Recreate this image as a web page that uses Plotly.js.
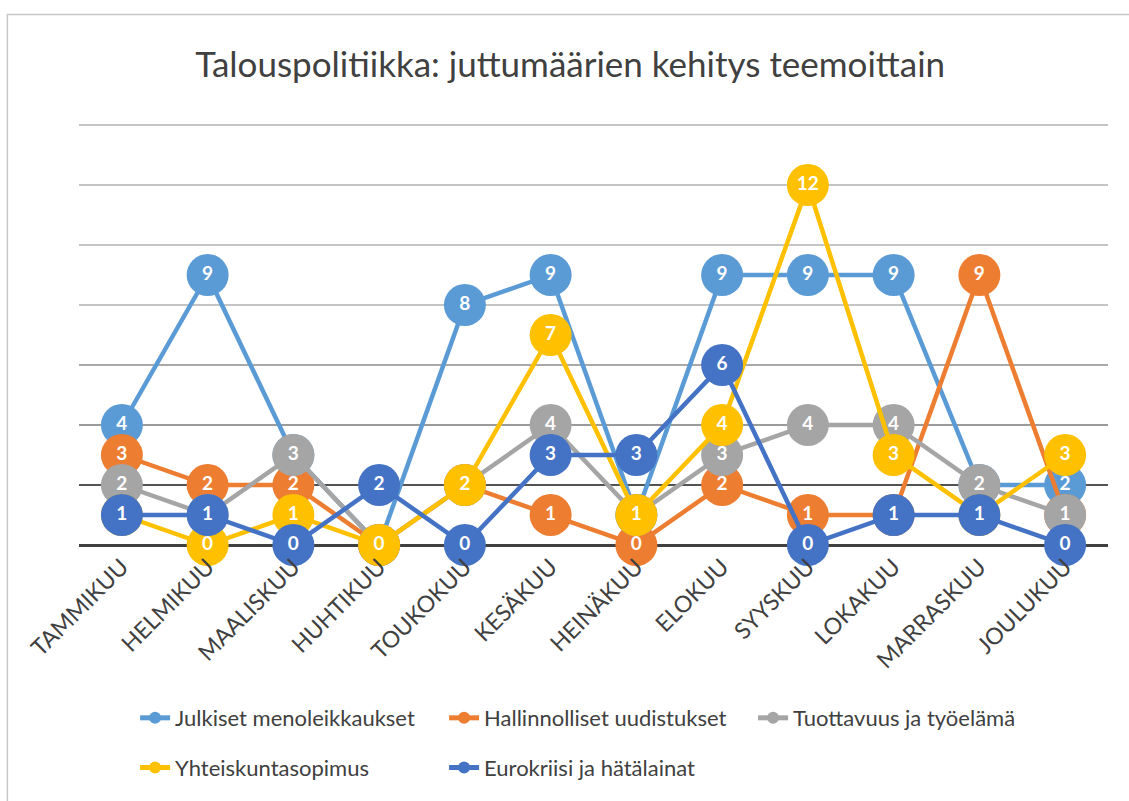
<!DOCTYPE html>
<html>
<head>
<meta charset="utf-8">
<script src="https://cdn.plot.ly/plotly-3.0.1.min.js"></script>
<style>html,body{margin:0;padding:0;background:#fff;}#chart{width:1129px;height:801px;}</style>
</head>
<body>
<div id="chart"></div>
<script>
const months = ["TAMMIKUU","HELMIKUU","MAALISKUU","HUHTIKUU","TOUKOKUU","KESÄKUU","HEINÄKUU","ELOKUU","SYYSKUU","LOKAKUU","MARRASKUU","JOULUKUU"];
const julkiset = [4, 9, 3, 0, 8, 9, 1, 9, 9, 9, 2, 2];
const hallinnolliset = [3, 2, 2, 0, 2, 1, 0, 2, 1, 1, 9, 1];
const tuottavuus = [2, 1, 3, 0, 2, 4, 1, 3, 4, 4, 2, 1];
const yhteiskunta = [1, 0, 1, 0, 2, 7, 1, 4, 12, 3, 1, 3];
const eurokriisi = [1, 1, 0, 2, 0, 3, 3, 6, 0, 1, 1, 0];
const seriesNames = ["Julkiset menoleikkaukset","Hallinnolliset uudistukset","Tuottavuus ja työelämä","Yhteiskuntasopimus","Eurokriisi ja hätälainat"];
const seriesColors = ["#5B9BD5","#ED7D31","#A5A5A5","#FFC000","#4472C4"];
const seriesValues = [julkiset, hallinnolliset, tuottavuus, yhteiskunta, eurokriisi];
const legendRow = ["legend","legend","legend","legend2","legend2"];
const lightGridValues = [8, 10, 12, 14];
const darkGridValues = [2, 4, 6];

const FONT = "Lato, 'Open Sans', sans-serif";
const darkGridColors = ["#1a1a1a", "#7a7a7a", "#8c8c8c"];

const traces = seriesValues.map((vals, i) => ({
  type: "scatter",
  mode: "lines+markers+text",
  name: seriesNames[i],
  legend: legendRow[i],
  x: months,
  y: vals,
  text: vals.map(String),
  textposition: "middle center",
  textfont: {family: FONT, size: 19, color: "#ffffff", weight: "bold"},
  line: {color: seriesColors[i], width: 4.5},
  marker: {color: seriesColors[i], size: 42},
  cliponaxis: false,
  hoverinfo: "none"
}));

const shapes = darkGridValues.map((v, i) => ({
  type: "line", xref: "x domain", yref: "y", x0: 0, x1: 1, y0: v, y1: v,
  line: {color: darkGridColors[i], width: 1.6}, layer: "below"
}));
shapes.push({
  type: "rect", xref: "paper", yref: "paper",
  x0: -0.0696, x1: 1.2, y0: -1, y1: 1.2571,
  line: {color: "#c8c8c8", width: 1.5}, layer: "below"
});

const legendCommon = {
  orientation: "h",
  xanchor: "left",
  yanchor: "middle",
  font: {family: FONT, size: 22, color: "#404040"},
  entrywidth: 264, entrywidthmode: "pixels",
  itemsizing: "constant",
  bgcolor: "rgba(0,0,0,0)"
};

const layout = {
  width: 1129, height: 801,
  margin: {l: 79, r: 21, t: 123, b: 256},
  paper_bgcolor: "#ffffff",
  plot_bgcolor: "rgba(0,0,0,0)",
  title: {
    text: "Talouspolitiikka: juttumäärien kehitys teemoittain",
    font: {family: FONT, size: 35, color: "#404040"},
    x: 0.505, xanchor: "center", yref: "container", y: 0.919, yanchor: "middle"
  },
  xaxis: {
    type: "category",
    range: [-0.5, 11.5],
    tickangle: -45,
    tickfont: {family: FONT, size: 23, color: "#404040"},
    showgrid: false,
    showline: false,
    ticks: "",
    ticklabelstandoff: 3,
    zeroline: false,
    automargin: false,
    fixedrange: true
  },
  yaxis: {
    range: [0, 14.0667],
    tickmode: "array",
    tickvals: lightGridValues,
    showticklabels: false,
    gridcolor: "#c4c4c4",
    gridwidth: 1.5,
    zeroline: true,
    zerolinecolor: "#404040",
    zerolinewidth: 3,
    showline: false,
    ticks: "",
    automargin: false,
    fixedrange: true
  },
  shapes: shapes,
  showlegend: true,
  legend: Object.assign({x: 0.0545, y: -0.41}, legendCommon),
  legend2: Object.assign({x: 0.0545, y: -0.528}, legendCommon)
};

Plotly.newPlot("chart", traces, layout, {staticPlot: true, displayModeBar: false});
</script>
</body>
</html>
